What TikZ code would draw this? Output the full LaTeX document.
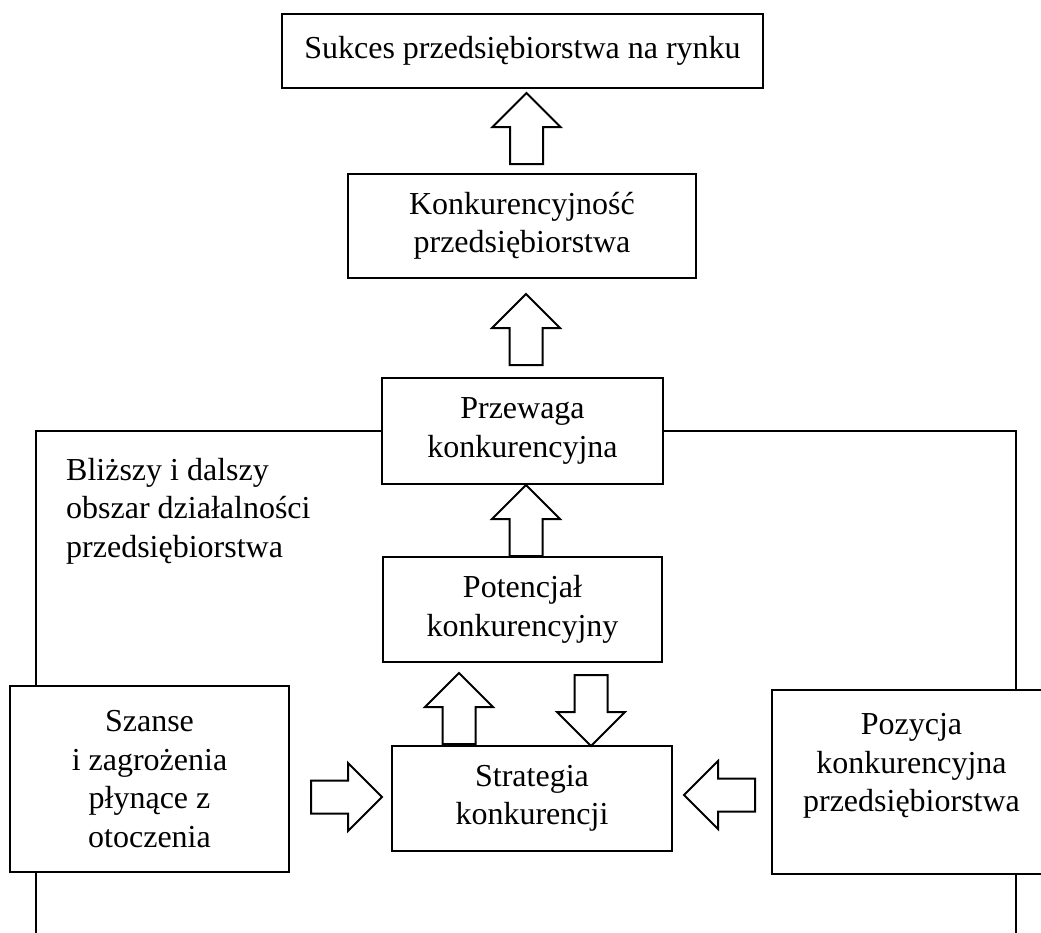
\documentclass[tikz,border=0pt]{standalone}
\usepackage{fontspec}
\setmainfont{Liberation Serif}
\usetikzlibrary{calc}
\begin{document}
\begin{tikzpicture}[x=1pt,y=-1pt,
  txt/.style={font=\fontsize{32}{38.5}\selectfont},
  box/.style={txt, draw, line width=2pt, fill=white, align=center, inner sep=0pt},
  frame/.style={line width=2pt},
  arrowline/.style={draw, line width=2pt, fill=white, line join=miter},
  blockarrow/.pic={\draw[arrowline] (0,0) -- (34,34) -- (16.5,34) -- (16.5,71)
      -- (-16.5,71) -- (-16.5,34) -- (-34,34) -- cycle;}
]
\fill[white] (0,0) rectangle (1041,932);
\useasboundingbox (0,0) rectangle (1041,932);

% boxes
\node[box, minimum width=481pt, minimum height=74pt] (top) at (522.5,51)
  {Sukces przedsiębiorstwa na rynku};
\node[box, minimum width=348pt, minimum height=104pt] (konk) at (522,226)
  {Konkurencyjność\\przedsiębiorstwa};
\node[box, minimum width=281pt, minimum height=106pt] (przew) at (522.5,431)
  {Przewaga\\konkurencyjna};
\node[box, minimum width=279pt, minimum height=105pt] (potenc) at (522.5,609.5)
  {Potencjał\\konkurencyjny};
\node[box, minimum width=279pt, minimum height=186pt] (szanse) at (149.5,779)
  {Szanse\\i zagrożenia\\płynące z\\otoczenia};
\node[box, minimum width=280pt, minimum height=105pt] (strat) at (532,798.5)
  {Strategia\\konkurencji};
\node[box, minimum width=279pt, minimum height=184pt] (pozycja) at (911.5,782)
  {Pozycja\\konkurencyjna\\przedsiębiorstwa\\\mbox{}};

% surrounding area of activity
\coordinate (fl) at (36,432);
\coordinate (fr) at (1016,432);
\coordinate (flb) at (36,940);
\coordinate (frb) at (1016,940);
\draw[frame] (przew.west) -| (szanse.north -| fl);
\draw[frame] (szanse.south -| fl) -- (flb);
\draw[frame] (przew.east) -| (pozycja.north -| fr);
\draw[frame] (pozycja.south -| fr) -- (frb);

\node[txt, align=left, anchor=north west, inner sep=0pt] (obszar) at (66,458)
  {Bliższy i dalszy\\obszar działalności\\przedsiębiorstwa};

% block arrows
\pic at ($(top.south)+(4,4)$) {blockarrow};
\pic at ($(konk.south)+(4,15)$) {blockarrow};
\pic at ($(przew.south)+(3.5,0)$) {blockarrow};
\pic at ($(potenc.south)+(-63.5,10)$) {blockarrow};
\pic[rotate=180] at ($(strat.north)+(59,1)$) {blockarrow};
\pic[rotate=-90] at ($(strat.west)+(-9,-1.5)$) {blockarrow};
\pic[rotate=90] at ($(strat.east)+(11,-3.5)$) {blockarrow};
\end{tikzpicture}
\end{document}
